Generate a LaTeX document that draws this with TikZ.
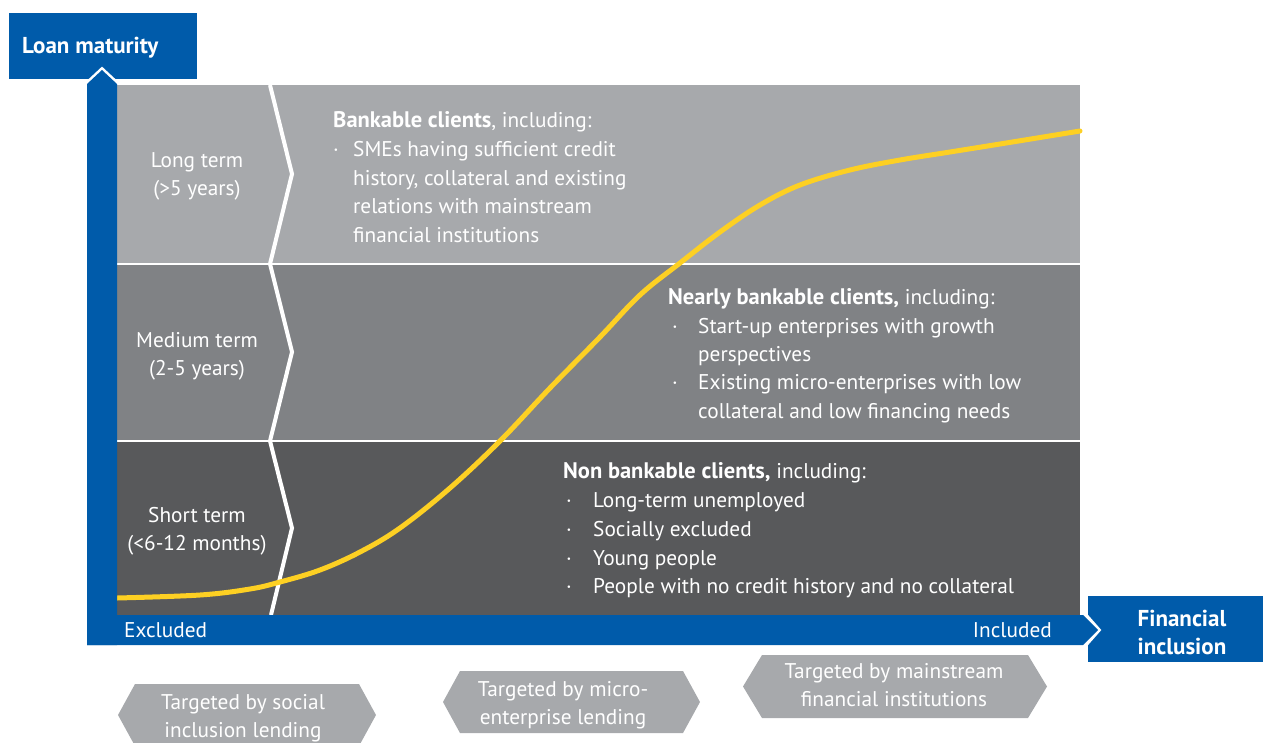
\documentclass[tikz,border=0pt]{standalone}
\usepackage{fontspec}
\setmainfont{PT Sans}
\usetikzlibrary{positioning,calc}
\definecolor{eibblue}{RGB}{0,91,170}
\definecolor{greylight}{RGB}{167,169,172}
\definecolor{greymid}{RGB}{128,130,133}
\definecolor{greydark}{RGB}{88,89,91}
\definecolor{curveyellow}{RGB}{253,208,35}

\begin{document}
\begin{tikzpicture}[x=1pt, y=-1pt,
    txt/.style={font=\fontsize{21.3}{28.7}\selectfont, text=white, inner sep=0pt},
    txtline/.style={txt, anchor=base west},
    txtmid/.style={txt, anchor=base},
    boldtxt/.style={txt, font=\fontsize{23}{28.7}\selectfont\bfseries},
    bluebox/.style={fill=eibblue, inner sep=0pt, anchor=north west},
    tagfill/.style={fill=greylight},
    rowsep/.style={white, line width=2pt},
    sigmoid/.style={curveyellow, line width=5pt, line cap=round}
]
    \useasboundingbox (0,0) rectangle (1263,742);

    % rows
    \fill[greylight] (117,85) rectangle (1080,264);
    \fill[greymid] (117,264) rectangle (1080,441);
    \fill[greydark] (117,441) rectangle (1080,615);
    \draw[rowsep] (117,264) -- (1080,264);
    \draw[rowsep] (117,441) -- (1080,441);
    \draw[white, line width=4pt, line join=miter] (270,85) -- (292,174) -- (270,264) -- (292,352) -- (270,441) -- (292,528) -- (271,615);

    % curve
    \draw[sigmoid] plot[smooth, tension=0.6] coordinates {(117,598) (200,595) (250,589) (280,582) (320,570) (360,552) (400,528) (450,488) (500,441) (550,388) (600,337) (640,295) (680,263) (720,232) (760,205) (800,185) (850,170) (900,160) (950,152) (1000,144) (1080,131)};

    % axes
    \node[bluebox, minimum width=188pt, minimum height=66pt] (loanbox) at (9,13) {};
    \node[bluebox, minimum width=175pt, minimum height=66pt] (finbox) at (1088,596) {};
    \draw[white, line width=5pt] (87,84) -- (102,70) -- (117,84);
    \fill[eibblue] (87,645) -- (87,84) -- (102,70) -- (117,84) -- (117,645) -- cycle;
    \draw[white, line width=5pt] (1083,613) -- (1098,630) -- (1083,647);
    \fill[eibblue] (87,615) -- (1083,615) -- (1098,630) -- (1083,645) -- (87,645) -- cycle;

    \node[boldtxt, anchor=base west] (loan) at (22,53) {Loan maturity};
    \node[boldtxt, anchor=base] (fin-a) at (1182,626) {Financial};
    \node[boldtxt, anchor=base] (fin-b) at (1182,654) {inclusion};
    \node[txtline] (excl) at (124,637) {Excluded};
    \node[txt, anchor=base east] (incl) at (1052,637) {Included};

    % maturity labels
    \foreach \n/\a/\b/\y in {long/{Long term}/{(>5 years)}/167, medium/{Medium term}/{(2-5 years)}/347, short/{Short term}/{(<6-12 months)}/522} {
        \node[txtmid] (\n-a) at (197,\y) {\a};
        \node[txtmid] (\n-b) at (197,{\y+28.5}) {\b};
    }

    % client groups
    \node[txtline] (bank) at (333,127) {{\fontsize{22.5}{28.7}\selectfont\bfseries Bankable clients}, including:};
    \node[txtline] (bank-dot) at (333,156) {·};
    \foreach \i/\y/\t in {1/156/{SMEs having sufficient credit}, 2/185/{history, collateral and existing}, 3/213/{relations with mainstream}, 4/242/{financial institutions}}
        \node[txtline] (bank-\i) at (353,\y) {\t};

    \node[txtline] (near) at (668,304) {{\fontsize{22.5}{28.7}\selectfont\bfseries Nearly bankable clients,} including:};
    \foreach \i/\y in {1/333, 2/389}
        \node[txtline] (near-dot\i) at (672,\y) {·};
    \foreach \i/\y/\t in {1/333/{Start-up enterprises with growth}, 2/361/{perspectives}, 3/389/{Existing micro-enterprises with low}, 4/418/{collateral and low financing needs}}
        \node[txtline] (near-\i) at (698,\y) {\t};

    \node[txtline] (non) at (563,478) {{\fontsize{22.5}{28.7}\selectfont\bfseries Non bankable clients,} including:};
    \foreach \i/\y/\t in {1/507/{Long-term unemployed}, 2/536/{Socially excluded}, 3/565/{Young people}, 4/593/{People with no credit history and no collateral}} {
        \node[txtline] (non-dot\i) at (566,\y) {·};
        \node[txtline] (non-\i) at (593,\y) {\t};
    }

    % targeted by
    \foreach \n/\xa/\xb/\ya/\yb/\d/\tx/\ty/\la/\lb in {social/118/376/684/746/17/243/709/{Targeted by social}/{inclusion lending}, micro/443/700/671/733/17/563/696/{Targeted by micro-}/{enterprise lending}, mainstream/743/1047/655/718/19/894/678/{Targeted by mainstream}/{financial institutions}} {
        \fill[tagfill] (\xa,{(\ya+\yb)/2}) -- ({\xa+\d},\ya) -- ({\xb-\d},\ya) -- (\xb,{(\ya+\yb)/2}) -- ({\xb-\d},\yb) -- ({\xa+\d},\yb) -- cycle;
        \node[txtmid] (\n-a) at (\tx,\ty) {\la};
        \node[txtmid] (\n-b) at (\tx,{\ty+28.5}) {\lb};
    }
\end{tikzpicture}
\end{document}
